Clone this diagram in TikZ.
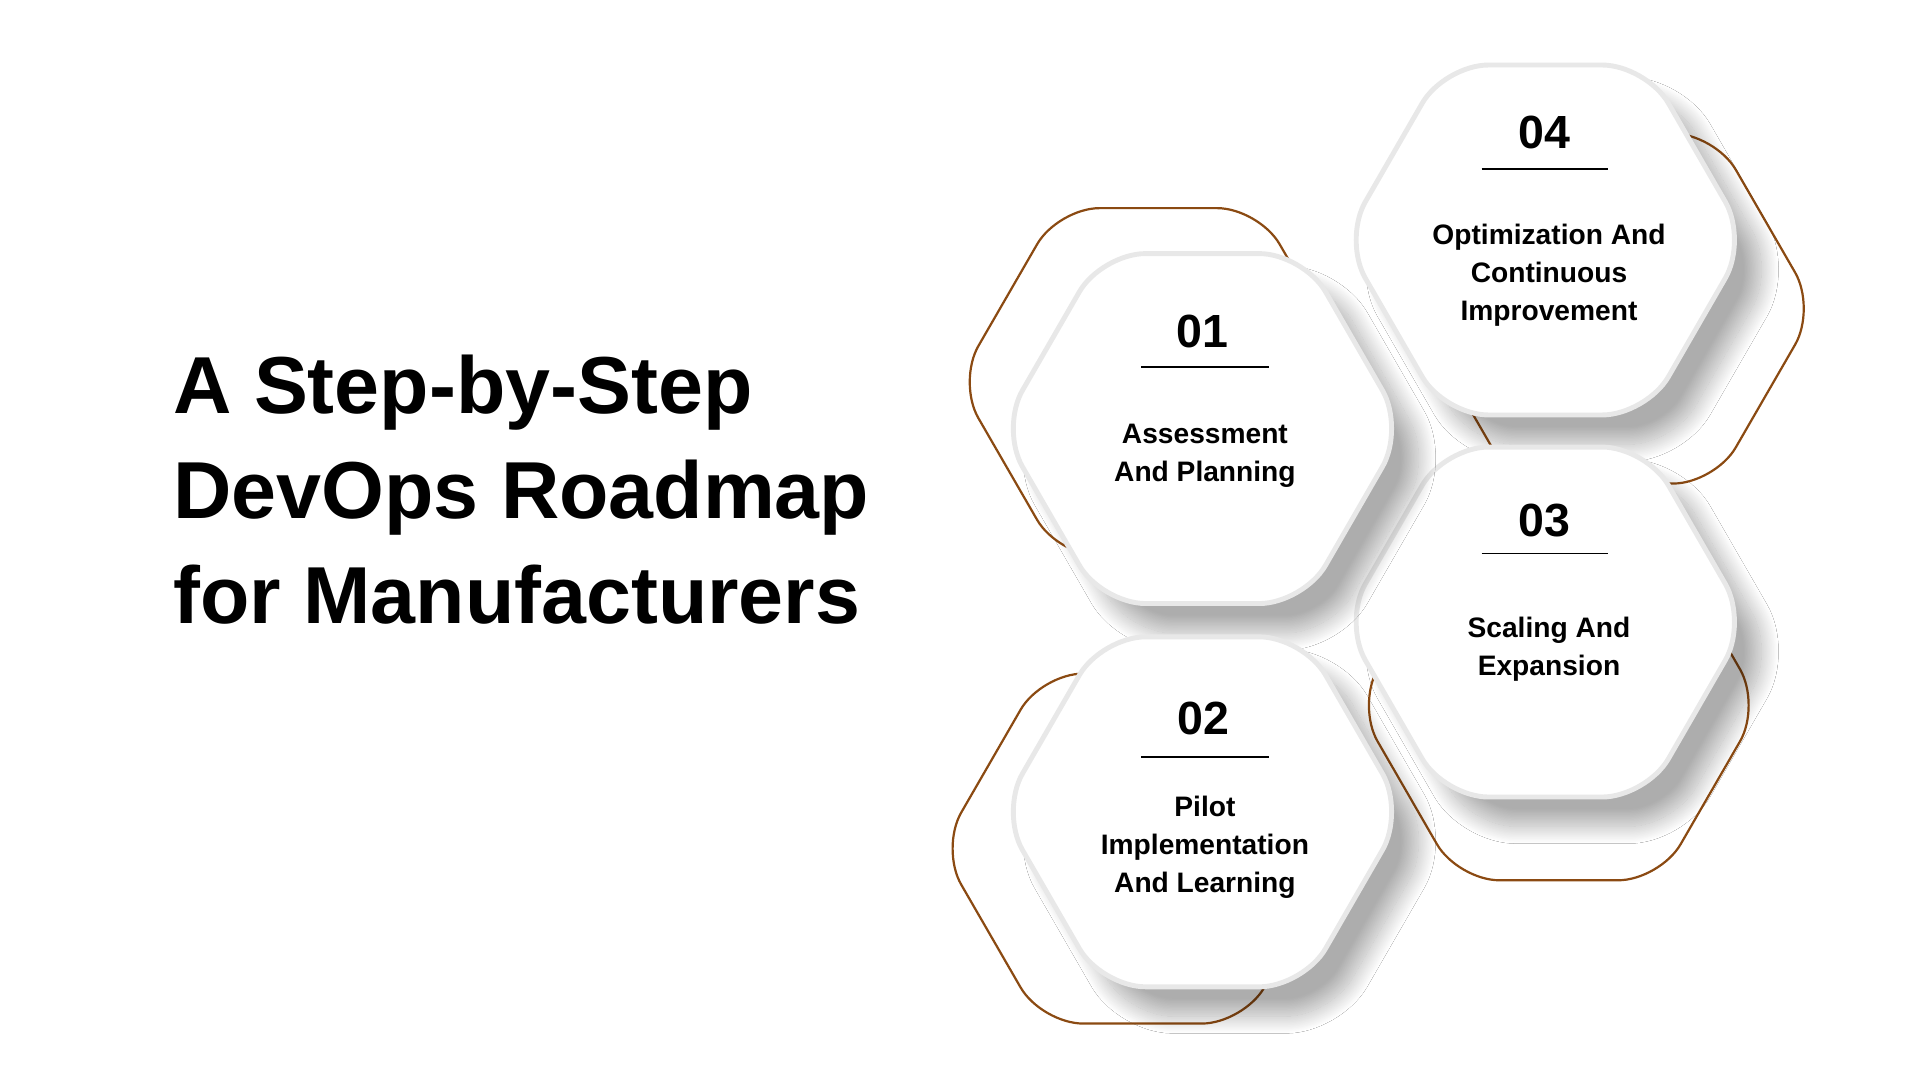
\documentclass[tikz,border=0pt]{standalone}
\usepackage{fontspec}
\setmainfont{Liberation Sans}
\usetikzlibrary{shadows.blur}
\definecolor{brn}{HTML}{8B4A12}
\newcommand{\hexp}[3]{(#1,#2) +(90:0.866*#3) -- +(120:#3) -- +(180:#3) -- +(240:#3) -- +(300:#3) -- +(0:#3) -- +(60:#3) -- cycle}
\tikzset{
 outl/.style={draw=brn, line width=1.8pt, rounded corners=34pt},
 hexw/.style={fill=white, draw=black!9, line width=4pt, rounded corners=36pt,
   blur shadow={shadow xshift=22pt, shadow yshift=-24pt, shadow blur radius=14pt, shadow blur steps=30, shadow opacity=32}},
 num/.style={font=\bfseries\fontsize{38}{40}\selectfont, anchor=center},
 body/.style={font=\bfseries\fontsize{23}{31}\selectfont, align=center, anchor=center},
 rule/.style={line width=1.4pt, black}
}
\begin{document}
\begin{tikzpicture}[x=1pt,y=-1pt]
\useasboundingbox (0,0) rectangle (1568,882);
\fill[white] (0,0) rectangle (1568,882);
% title
\node[anchor=west, align=left, font=\bfseries\fontsize{66}{86}\selectfont] (title) at (138,400)
 {A Step-by-Step\\DevOps Roadmap\\for Manufacturers};
% brown outlines
\draw[outl] \hexp{946}{312}{164};
\draw[outl] \hexp{933}{693}{165};
\draw[outl] \hexp{1273}{576}{165};
\draw[outl] \hexp{1318}{252}{165};
% white hexagons
\path[hexw] \hexp{1262}{196}{165};
\path[hexw] \hexp{1262}{508}{165};
\path[hexw] \hexp{982}{350}{165};
\path[hexw] \hexp{982}{663}{165};
% 01
\node[num] (n1) at (982,271) {01};
\coordinate (l1a) at (932,300); \coordinate (l1b) at (1036,300);
\draw[rule] (l1a) -- (l1b);
\node[body] (t1) at (984,372) {Assessment\\And Planning};
% 02
\node[num] (n2) at (983,587) {02};
\coordinate (l2a) at (932,618); \coordinate (l2b) at (1036,618);
\draw[rule] (l2a) -- (l2b);
\node[body] (t2) at (984,692) {Pilot\\Implementation\\And Learning};
% 03
\node[num] (n3) at (1261,425) {03};
\coordinate (l3a) at (1210,452); \coordinate (l3b) at (1313,452);
\draw[rule] (l3a) -- (l3b);
\node[body] (t3) at (1265,530) {Scaling And\\Expansion};
% 04
\node[num] (n4) at (1261,108) {04};
\coordinate (l4a) at (1210,138); \coordinate (l4b) at (1313,138);
\draw[rule] (l4a) -- (l4b);
\node[body] (t4) at (1265,225) {Optimization And\\Continuous\\Improvement};
\end{tikzpicture}
\end{document}
